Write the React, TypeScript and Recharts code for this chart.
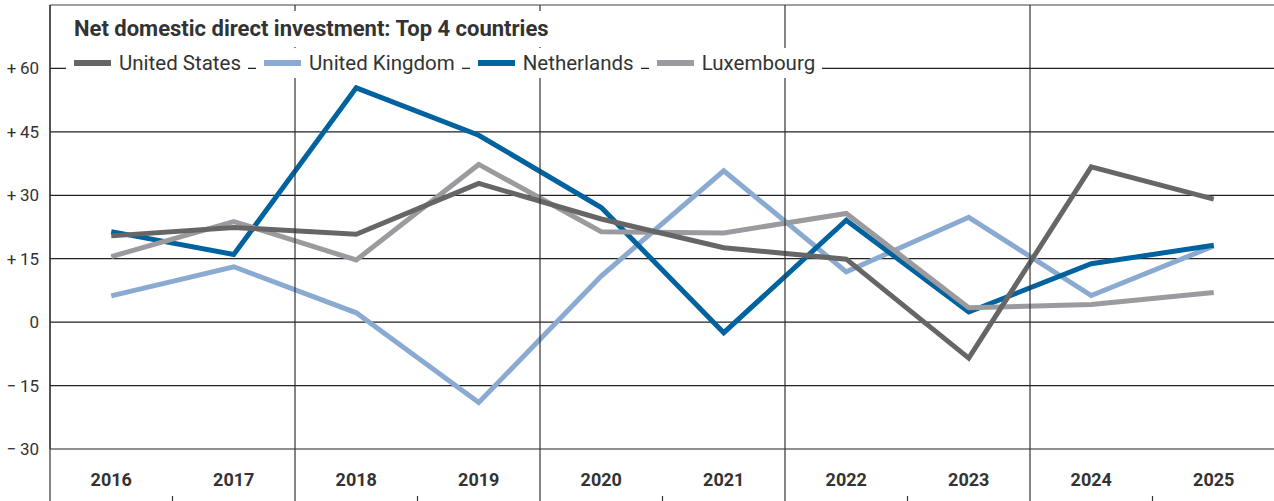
import { LineChart, Line, XAxis, YAxis, CartesianGrid, ReferenceLine } from "recharts";

const YEARS = ["2016", "2017", "2018", "2019", "2020", "2021", "2022", "2023", "2024", "2025"];
const UNITED_STATES = [20.4, 22.4, 20.8, 32.8, 24.4, 17.6, 14.9, -8.5, 36.7, 29.1];
const UNITED_KINGDOM = [6.2, 13.1, 2.2, -19.0, 10.9, 35.8, 11.9, 24.8, 6.3, 18.0];
const NETHERLANDS = [21.4, 16.0, 55.4, 44.2, 27.1, -2.5, 24.1, 2.4, 13.8, 18.2];
const LUXEMBOURG = [15.5, 23.8, 14.7, 37.3, 21.4, 21.1, 25.7, 3.4, 4.2, 7.0];
const Y_TICKS = [-30, -15, 0, 15, 30, 45, 60];
const Y_MAX = 75;
const TITLE = "Net domestic direct investment: Top 4 countries";

const SERIES = [
  { key: "us", name: "United States", color: "#666666", values: UNITED_STATES },
  { key: "uk", name: "United Kingdom", color: "#8aaad2", values: UNITED_KINGDOM },
  { key: "nl", name: "Netherlands", color: "#00629f", values: NETHERLANDS },
  { key: "lu", name: "Luxembourg", color: "#9b9b9f", values: LUXEMBOURG },
];
// drawing order (bottom to top)
const DRAW_ORDER = ["uk", "nl", "lu", "us"];

const W = 1275;
const H = 501;
const TOP = 5;
const BOUNDS_AXIS_H = 1;
const X_AXIS_H = 52;
const PLOT_H = H - TOP - X_AXIS_H;
const FONT = "Roboto, 'Noto Sans', sans-serif";
const TEXT = "#333333";

const data = YEARS.map((year, i) => {
  const row: Record<string, number | string> = { x: i, year };
  SERIES.forEach((s) => (row[s.key] = s.values[i]));
  return row;
});

// category boundaries, every second one gets a full-height line
const BOUNDS = YEARS.map((_, i) => i - 0.5).concat(YEARS.length - 0.5);

function BoundaryTick(props: any) {
  const { x, y, payload } = props;
  const idx = Math.round(payload.value + 0.5);
  const bottom = y + PLOT_H + X_AXIS_H;
  if (idx % 2 === 0) {
    return <line x1={x} x2={x} y1={y} y2={bottom} stroke="#333" strokeWidth={1.2} />;
  }
  return <line x1={x} x2={x} y1={bottom - 5} y2={bottom} stroke="#333" strokeWidth={1.2} />;
}

function formatY(v: number) {
  if (v > 0) return `+\u2009${v}`;
  if (v < 0) return `\u2212\u2009${Math.abs(v)}`;
  return "0";
}

export default function App() {
  return (
    <div style={{ position: "absolute", left: 0, top: 0, width: W, height: H, fontFamily: FONT }}>
      <LineChart
        width={W}
        height={H}
        data={data}
        margin={{ top: TOP - BOUNDS_AXIS_H, right: 0, left: 0, bottom: 0 }}
      >
        <CartesianGrid vertical={false} stroke="#222" strokeWidth={1.2} />
        <XAxis
          type="number"
          dataKey="x"
          domain={[-0.5, YEARS.length - 0.5]}
          ticks={YEARS.map((_, i) => i)}
          tickFormatter={(i: number) => YEARS[i]}
          interval={0}
          height={X_AXIS_H}
          axisLine={false}
          tickLine={false}
          tickSize={0}
          tickMargin={24}
          tick={{ fontSize: 18, fontWeight: 700, fill: TEXT, fontFamily: FONT }}
        />
        <XAxis
          xAxisId="bounds"
          orientation="top"
          type="number"
          dataKey="x"
          domain={[-0.5, YEARS.length - 0.5]}
          ticks={BOUNDS}
          interval={0}
          height={BOUNDS_AXIS_H}
          axisLine={false}
          tickLine={false}
          tickSize={0}
          tickMargin={0}
          tick={<BoundaryTick />}
        />
        <YAxis
          domain={[Y_TICKS[0], Y_MAX]}
          ticks={Y_TICKS}
          interval={0}
          width={50}
          axisLine={{ stroke: "#333", strokeWidth: 1.2 }}
          tickLine={false}
          tickSize={0}
          tickMargin={11}
          tickFormatter={formatY}
          tick={{ fontSize: 17, fill: TEXT, fontFamily: FONT }}
        />
        <ReferenceLine y={Y_MAX} stroke="#a6a6a6" strokeWidth={1.5} />
        {DRAW_ORDER.map((k) => {
          const s = SERIES.find((d) => d.key === k)!;
          return (
            <Line
              key={s.key}
              type="linear"
              dataKey={s.key}
              name={s.name}
              stroke={s.color}
              strokeWidth={5}
              dot={false}
              activeDot={false}
              isAnimationActive={false}
            />
          );
        })}
      </LineChart>

      <div
        style={{
          position: "absolute",
          left: 66,
          top: 11,
          height: 36,
          lineHeight: "36px",
          padding: "0 8px",
          background: "#fff",
          fontSize: 22,
          fontWeight: 700,
          color: TEXT,
          whiteSpace: "nowrap",
        }}
      >
        {TITLE}
      </div>

      <div style={{ position: "absolute", left: 66, top: 48, display: "flex", gap: 8 }}>
        {SERIES.map((s) => (
          <div
            key={s.key}
            style={{
              display: "flex",
              alignItems: "center",
              height: 30,
              padding: "0 7px 0 8px",
              background: "#fff",
              whiteSpace: "nowrap",
            }}
          >
            <span style={{ display: "inline-block", width: 37, height: 6, background: s.color }} />
            <span style={{ marginLeft: 8, fontSize: 20.5, color: TEXT, lineHeight: "30px" }}>{s.name}</span>
          </div>
        ))}
      </div>
    </div>
  );
}
